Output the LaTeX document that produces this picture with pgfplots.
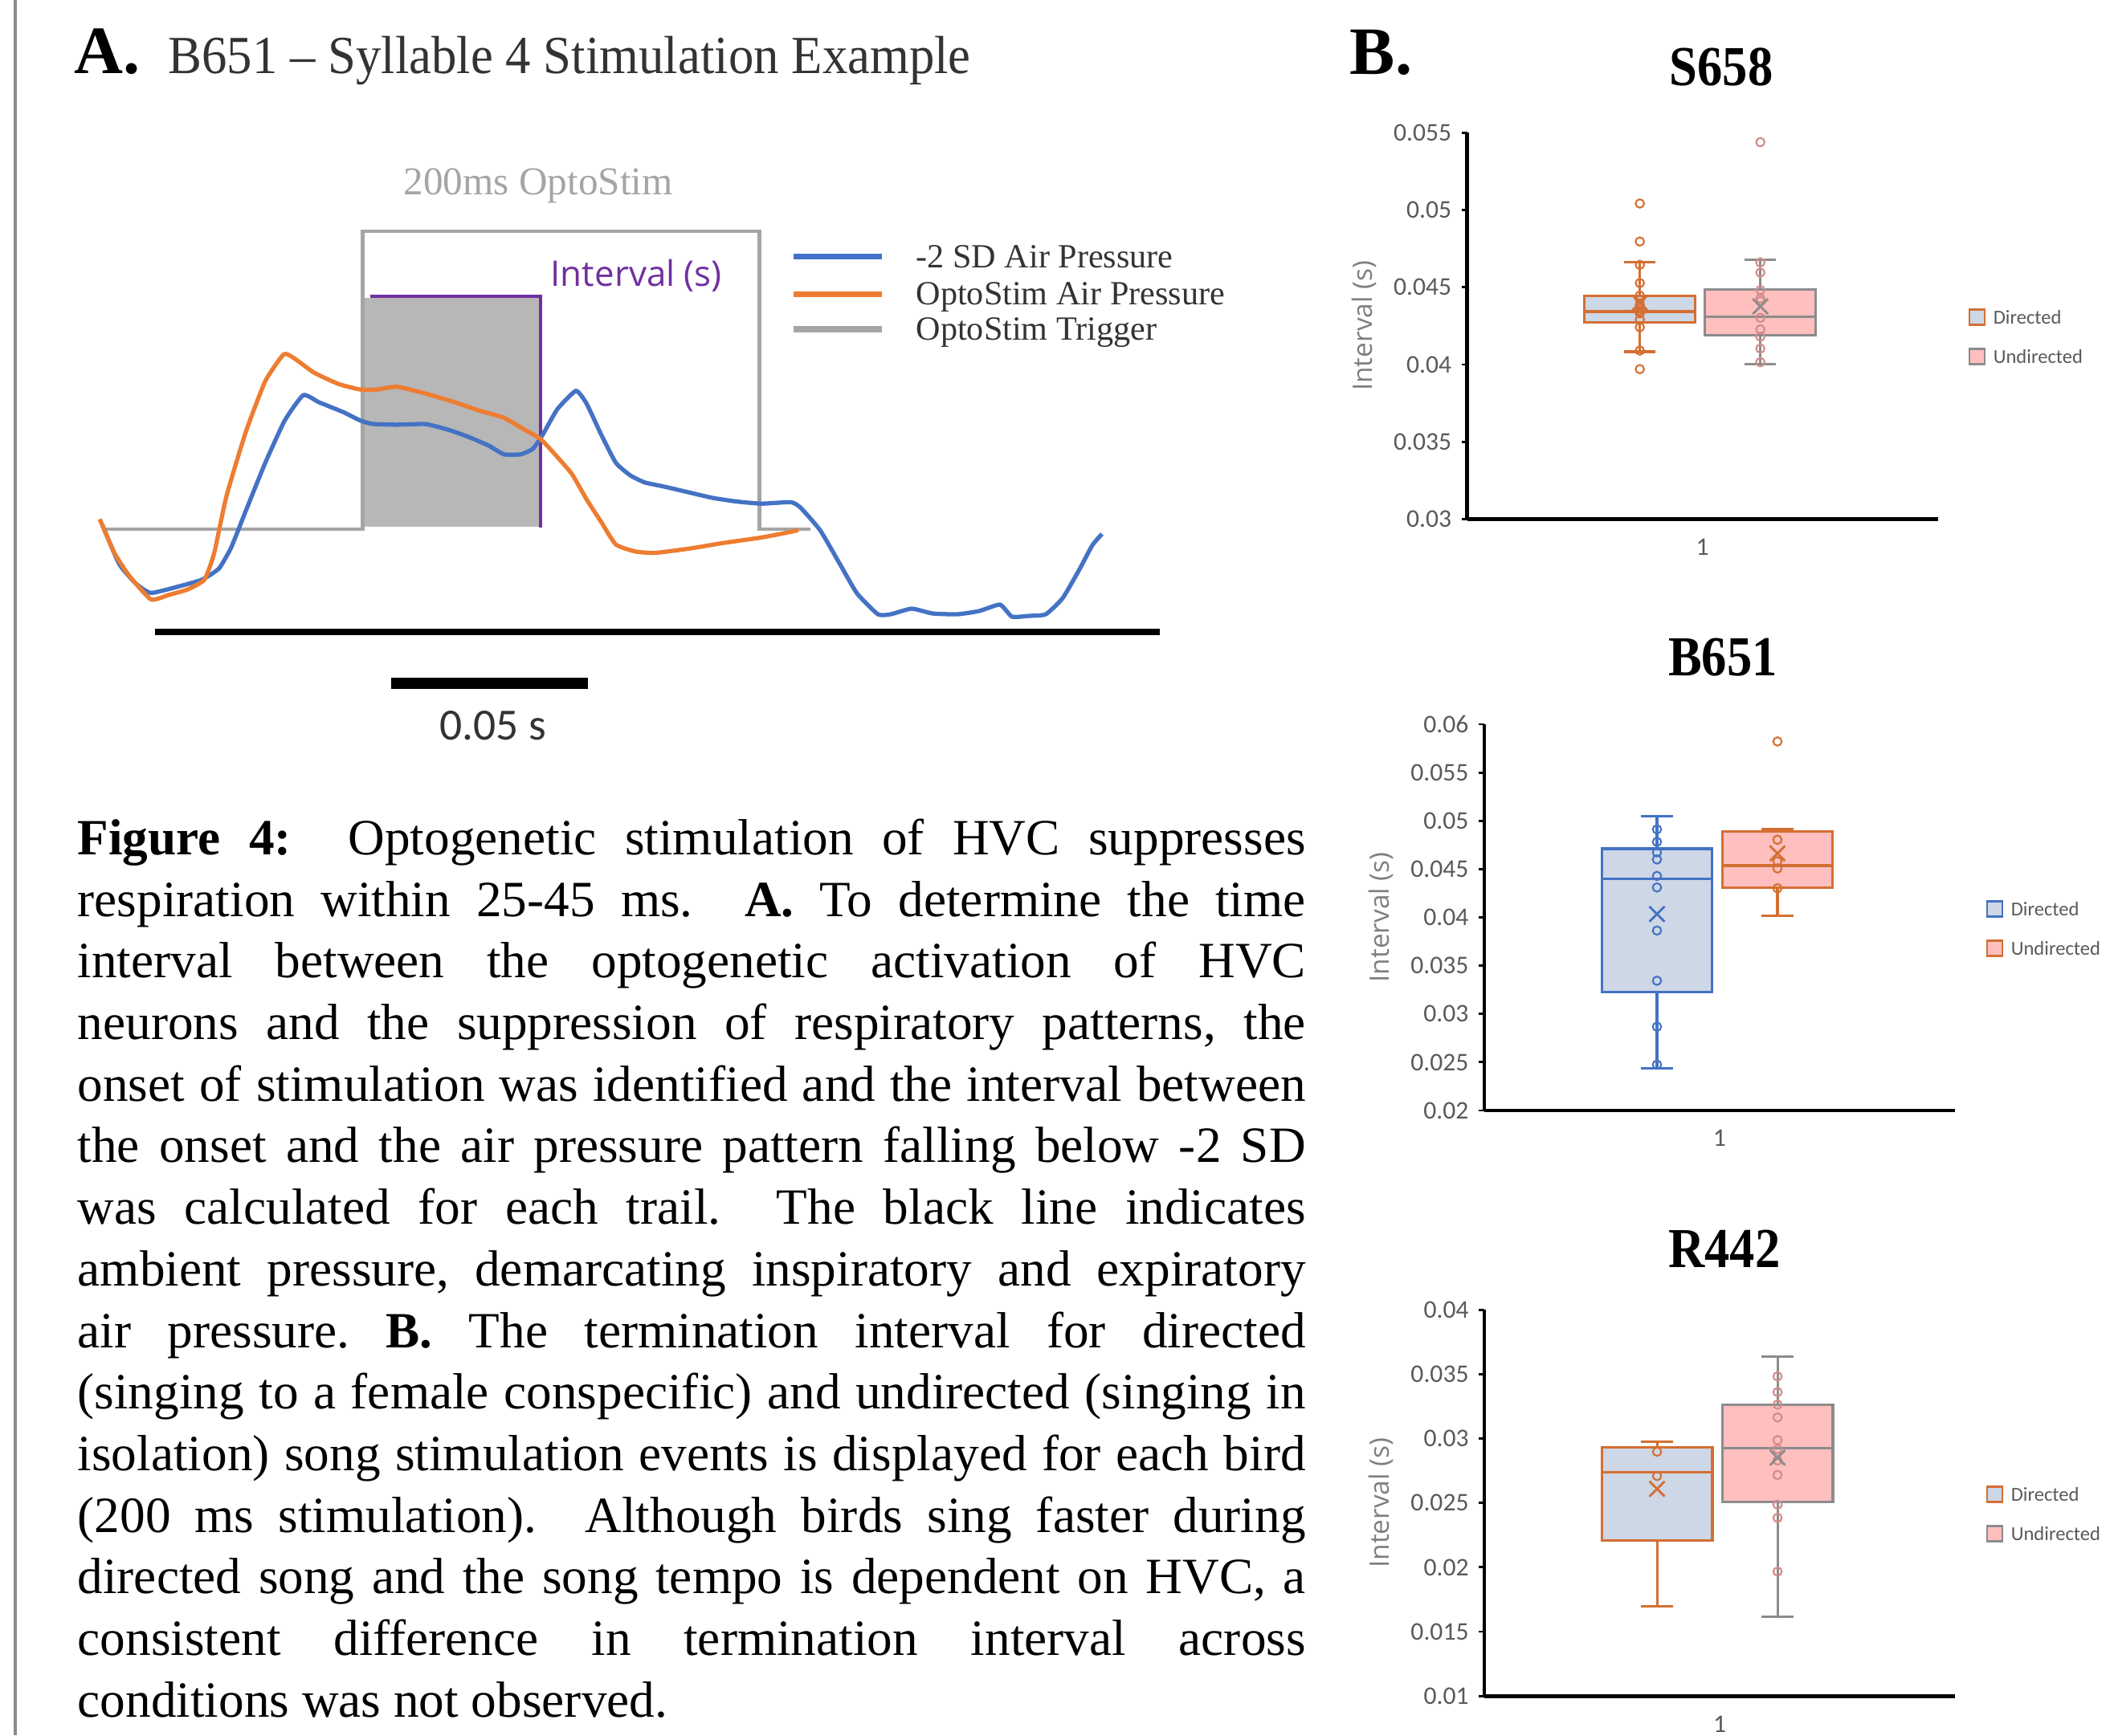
\documentclass[border=0pt]{standalone}
\usepackage{pgfplots}
\pgfplotsset{compat=1.18}
\usepgfplotslibrary{statistics}
\usepackage{fontspec}
\setmainfont{Liberation Serif}
\newfontfamily\carlito{Carlito}
\newfontfamily\opensans{Open Sans}
\newfontfamily\condserif[FakeStretch=0.89]{Liberation Serif}
\newfontfamily\titleserif[FakeStretch=0.94]{Liberation Serif}
\definecolor{cblue}{HTML}{4472C4}
\definecolor{corange}{HTML}{ED7D31}
\definecolor{trig}{HTML}{A5A5A5}
\definecolor{stimfill}{HTML}{B7B7B7}
\definecolor{cpurple}{HTML}{7030A0}
\definecolor{bfill}{HTML}{CDD7E6}
\definecolor{pfill}{HTML}{FFBFBF}
\definecolor{borange}{HTML}{D46F33}
\definecolor{bgray}{HTML}{8C8C8C}
\definecolor{ppoint}{HTML}{D58A8A}
\definecolor{tickgray}{HTML}{595959}
\definecolor{labgray}{HTML}{7F7F7F}
\definecolor{darktext}{HTML}{333333}
\definecolor{edgegray}{HTML}{8A8A8A}
\pgfplotsset{
  bp/.style={scale only axis, width=58.6mm, height=48.1mm, xmin=0, xmax=1,
    axis x line*=bottom, axis y line*=left,
    axis line style={line width=1.3pt, black, -},
    scaled y ticks=false,
    xtick={0.5}, xticklabels={1}, major x tick style={draw=none},
    y tick style={black, line width=0.8pt}, tick align=outside, major tick length=0.7mm,
    tick label style={font=\carlito\fontsize{9}{10}\selectfont, text=tickgray},
    xticklabel style={yshift=-0.5mm},
    ylabel={Interval (s)},
    ylabel style={font=\opensans\fontsize{9.5}{11}\selectfont, text=labgray,
      at={(axis description cs:-0.219,0.5)}, anchor=center},
    clip=false, boxplot/draw direction=y},
  bx/.style={line width=0.9pt},
  pts/.style={only marks, mark=o, mark size=1.5pt, mark options={line width=0.6pt}},
  mn/.style={only marks, mark=x, mark size=3.8pt, mark options={line width=0.8pt}},
}
\begin{document}
\begin{tikzpicture}
\path[use as bounding box] (0,0) rectangle (263.2mm,-216.1mm);

% ---------------- Panel A traces ----------------
\begin{axis}[at={(10mm,-20mm)}, anchor=north west, scale only axis,
  width=140mm, height=70mm, xmin=100, xmax=1500, ymin=200, ymax=900,
  y dir=reverse, hide axis, clip=false]
\addplot[fill=stimfill, draw=none] coordinates {(451.5,371) (672.7,371) (672.7,656) (451.5,656)} -- cycle;
\addplot[trig, line width=1.3pt] coordinates {(127,659) (451.5,659) (451.5,288) (945.5,288) (945.5,659) (1009,659)};
\addplot[cpurple, line width=1.2pt] coordinates {(460.6,369.3) (672.7,369.3) (672.7,657)};
\addplot[cblue, line width=1.5pt, smooth, tension=0.3] coordinates {
(127.3,653.5) (148.5,702.6) (169.7,727.2) (187.9,738.4) (221.2,730.7) (251.5,721.9) (272.7,707.9) (287.9,681.6) (306.1,636.0) (330.3,576.3) (354.5,523.7) (377.6,492.1) (397.0,500.9) (427.3,513.2) (448.5,523.7) (463.6,527.9) (493.9,528.9) (530.3,528.2) (560.6,536.0) (584.8,544.7) (609.1,555.3) (627.3,565.8) (648.5,565.8) (663.6,558.8) (675.8,541.2) (693.9,509.6) (717.0,486.8) (730.3,502.6) (748.5,541.2) (766.7,576.3) (784.8,592.1) (803.0,600.9) (827.3,606.1) (857.6,613.2) (887.9,620.2) (918.2,624.7) (948.5,627.2) (984.8,625.4) (997.0,632.5) (1021.2,660.5) (1046,703) (1067,739) (1093,765) (1109,765) (1135,758) (1161,764) (1192,765) (1219,761) (1245,753) (1260,768) (1281,767) (1302,765) (1323,745) (1344,709) (1360,679) (1372,665)};
\addplot[corange, line width=1.5pt, smooth, tension=0.3] coordinates {
(124.2,646.5) (142.4,688.6) (160.6,716.7) (187.9,746.5) (209.1,741.2) (233.3,734.2) (254.5,721.9) (266.7,688.6) (281.8,618.4) (306.1,537.7) (330.3,474.6) (353.3,441.2) (366.7,446.5) (390.9,464.0) (421.2,478.1) (448.5,485.1) (469.7,485.1) (493.9,481.6) (524.2,488.6) (560.6,499.1) (597.0,511.4) (627.3,520.2) (651.5,534.2) (672.7,546.5) (690.9,565.8) (712.1,590.4) (730.3,621.9) (748.5,650.0) (766.7,678.1) (790.9,686.8) (815.2,688.6) (857.6,683.3) (900.0,676.3) (948.5,669.3) (984.8,662.3) (994,660)};
\addplot[black, line width=2pt] coordinates {(193,787) (1444,787)};
\addplot[black, line width=3.7pt] coordinates {(487,851) (732,851)};
\addplot[cblue, line width=2pt] coordinates {(988,319) (1098,319)};
\addplot[corange, line width=2pt] coordinates {(988,366) (1098,366)};
\addplot[trig, line width=2pt] coordinates {(988,410) (1098,410)};
\end{axis}

% ---------------- Panel B: S658 ----------------
\begin{axis}[bp, at={(182.66mm,-16.53mm)}, anchor=north west,
  ymin=0.03, ymax=0.055, ytick={0.03,0.035,0.04,0.045,0.05,0.055},
  yticklabels={0.03,0.035,0.04,0.045,0.05,0.055}]
\addplot[bx, draw=borange, fill=bfill, boxplot prepared={draw position=0.367, box extend=0.235, whisker extend=0.067,
  lower whisker=0.04083, lower quartile=0.04273, median=0.04343, upper quartile=0.04446, upper whisker=0.04663}] coordinates {};
\addplot[bx, draw=bgray, fill=pfill, boxplot prepared={draw position=0.623, box extend=0.235, whisker extend=0.067,
  lower whisker=0.04004, lower quartile=0.04189, median=0.04309, upper quartile=0.04485, upper whisker=0.04676}] coordinates {};
\addplot[pts, borange] coordinates {(0.367,0.05042) (0.367,0.04796) (0.367,0.04645) (0.367,0.04527) (0.367,0.04446) (0.367,0.04421) (0.367,0.04388) (0.367,0.04349) (0.367,0.04331) (0.367,0.04291) (0.367,0.04241) (0.367,0.04090) (0.367,0.03970)};
\addplot[pts, ppoint] coordinates {(0.623,0.05439) (0.623,0.04661) (0.623,0.04595) (0.623,0.04482) (0.623,0.04426) (0.623,0.04410) (0.623,0.04302) (0.623,0.04227) (0.623,0.04180) (0.623,0.04103) (0.623,0.04015)};
\addplot[mn, borange] coordinates {(0.367,0.04399)};
\addplot[mn, bgray] coordinates {(0.623,0.04376)};
\end{axis}

% ---------------- Panel B: B651 ----------------
\begin{axis}[bp, at={(184.79mm,-90.2mm)}, anchor=north west,
  ymin=0.02, ymax=0.06, ytick={0.02,0.025,0.03,0.035,0.04,0.045,0.05,0.055,0.06},
  yticklabels={0.02,0.025,0.03,0.035,0.04,0.045,0.05,0.055,0.06}]
\addplot[bx, draw=cblue, fill=bfill, boxplot prepared={draw position=0.367, box extend=0.235, whisker extend=0.067,
  lower whisker=0.02434, lower quartile=0.03225, median=0.04399, upper quartile=0.04711, upper whisker=0.05049}] coordinates {};
\addplot[bx, draw=borange, fill=pfill, boxplot prepared={draw position=0.623, box extend=0.235, whisker extend=0.067,
  lower whisker=0.04020, lower quartile=0.04310, median=0.04536, upper quartile=0.04889, upper whisker=0.04912}] coordinates {};
\addplot[pts, cblue] coordinates {(0.367,0.04912) (0.367,0.04782) (0.367,0.04674) (0.367,0.04600) (0.367,0.04429) (0.367,0.04310) (0.367,0.03864) (0.367,0.03344) (0.367,0.02868) (0.367,0.02475)};
\addplot[pts, borange] coordinates {(0.623,0.05822) (0.623,0.04804) (0.623,0.04581) (0.623,0.04507) (0.623,0.04302)};
\addplot[mn, cblue] coordinates {(0.367,0.04035)};
\addplot[mn, borange] coordinates {(0.623,0.04663)};
\end{axis}

% ---------------- Panel B: R442 ----------------
\begin{axis}[bp, at={(184.8mm,-163.12mm)}, anchor=north west,
  ymin=0.01, ymax=0.04, ytick={0.01,0.015,0.02,0.025,0.03,0.035,0.04},
  yticklabels={0.01,0.015,0.02,0.025,0.03,0.035,0.04}]
\addplot[bx, draw=borange, fill=bfill, boxplot prepared={draw position=0.367, box extend=0.235, whisker extend=0.067,
  lower whisker=0.01696, lower quartile=0.02208, median=0.02741, upper quartile=0.02933, upper whisker=0.02974}] coordinates {};
\addplot[bx, draw=bgray, fill=pfill, boxplot prepared={draw position=0.623, box extend=0.235, whisker extend=0.067,
  lower whisker=0.01615, lower quartile=0.02506, median=0.02925, upper quartile=0.03264, upper whisker=0.03635}] coordinates {};
\addplot[pts, borange] coordinates {(0.367,0.02898) (0.367,0.02709)};
\addplot[pts, ppoint] coordinates {(0.623,0.03483) (0.623,0.03361) (0.623,0.03264) (0.623,0.03164) (0.623,0.02988) (0.623,0.02917) (0.623,0.02830) (0.623,0.02717) (0.623,0.02487) (0.623,0.02384) (0.623,0.01967)};
\addplot[mn, borange] coordinates {(0.367,0.02609)};
\addplot[mn, bgray] coordinates {(0.623,0.02852)};
\end{axis}

% ---------------- Text and decorations (1 unit = 1 px) ----------------
\begin{scope}[x=0.1mm, y=-0.1mm]
\draw[edgegray, line width=0.45mm] (19,0) -- (19,2161);
% Panel A headings
\node[anchor=base west, inner sep=0, font=\fontsize{24}{26}\selectfont\bfseries] at (92,91) {A.};
\node[anchor=base west, inner sep=0, text=darktext, font=\titleserif\fontsize{19}{21}\selectfont] at (209,91) {B651 – Syllable 4 Stimulation Example};
\node[anchor=base west, inner sep=0, text=trig, font=\fontsize{14}{16}\selectfont] at (502,242) {200ms OptoStim};
\node[anchor=west, inner sep=0, text=cpurple, font=\opensans\fontsize{12.5}{14}\selectfont] at (685,343) {Interval (s)};
\node[anchor=base west, inner sep=0, text=darktext, font=\fontsize{12}{14}\selectfont] at (1140,333) {-2 SD Air Pressure};
\node[anchor=base west, inner sep=0, text=darktext, font=\fontsize{12}{14}\selectfont] at (1140,379) {OptoStim Air Pressure};
\node[anchor=base west, inner sep=0, text=darktext, font=\fontsize{12}{14}\selectfont] at (1140,423) {OptoStim Trigger};
\node[anchor=center, inner sep=0, text=darktext, font=\carlito\fontsize{15.8}{18}\selectfont] at (614,904) {0.05 s};
% Panel B headings
\node[anchor=base west, inner sep=0, font=\fontsize{24}{26}\selectfont\bfseries] at (1680,92) {B.};
\node[anchor=base, inner sep=0, font=\condserif\bfseries\fontsize{20}{22}\selectfont] at (2143,106) {S658};
\node[anchor=base, inner sep=0, font=\condserif\bfseries\fontsize{20}{22}\selectfont] at (2145,841) {B651};
\node[anchor=base, inner sep=0, font=\condserif\bfseries\fontsize{20}{22}\selectfont] at (2147,1578) {R442};
% Box plot legends
\draw[borange, fill=bfill, line width=0.8pt] (2452,385.5) rectangle (2471,404.5);
\draw[bgray, fill=pfill, line width=0.8pt] (2452,434.5) rectangle (2471,453.5);
\node[anchor=west, inner sep=0, text=tickgray, font=\carlito\fontsize{7}{8}\selectfont] at (2481,395) {Directed};
\node[anchor=west, inner sep=0, text=tickgray, font=\carlito\fontsize{7}{8}\selectfont] at (2481,444) {Undirected};
\draw[cblue, fill=bfill, line width=0.8pt] (2474,1122.5) rectangle (2493,1141.5);
\draw[borange, fill=pfill, line width=0.8pt] (2474,1171.5) rectangle (2493,1190.5);
\node[anchor=west, inner sep=0, text=tickgray, font=\carlito\fontsize{7}{8}\selectfont] at (2503,1132) {Directed};
\node[anchor=west, inner sep=0, text=tickgray, font=\carlito\fontsize{7}{8}\selectfont] at (2503,1181) {Undirected};
\draw[borange, fill=bfill, line width=0.8pt] (2474,1851.5) rectangle (2493,1870.5);
\draw[bgray, fill=pfill, line width=0.8pt] (2474,1900.5) rectangle (2493,1919.5);
\node[anchor=west, inner sep=0, text=tickgray, font=\carlito\fontsize{7}{8}\selectfont] at (2503,1861) {Directed};
\node[anchor=west, inner sep=0, text=tickgray, font=\carlito\fontsize{7}{8}\selectfont] at (2503,1910) {Undirected};
% Caption
\node[anchor=north west, inner sep=0, text width=152.9mm, align=justify,
  font=\fontsize{18}{21.82}\selectfont] at (96,1010.1) {\frenchspacing\tolerance=10000\hyphenpenalty=10000\strut\textbf{Figure 4:}\ \ Optogenetic stimulation of HVC suppresses\linebreak
respiration within 25-45 ms.\ \ \textbf{A.} To determine the time\linebreak
interval between the optogenetic activation of HVC\linebreak
neurons and the suppression of respiratory patterns, the\linebreak
onset of stimulation was identified and the interval between\linebreak
the onset and the air pressure pattern falling below -2 SD\linebreak
was calculated for each trail.\ \ The black line indicates\linebreak
ambient pressure, demarcating inspiratory and expiratory\linebreak
air pressure. \textbf{B.} The termination interval for directed\linebreak
(singing to a female conspecific) and undirected (singing in\linebreak
isolation) song stimulation events is displayed for each bird\linebreak
(200 ms stimulation).\ \ Although birds sing faster during\linebreak
directed song and the song tempo is dependent on HVC, a\linebreak
consistent difference in termination interval across\linebreak
conditions was not observed.};
\end{scope}
\end{tikzpicture}
\end{document}
